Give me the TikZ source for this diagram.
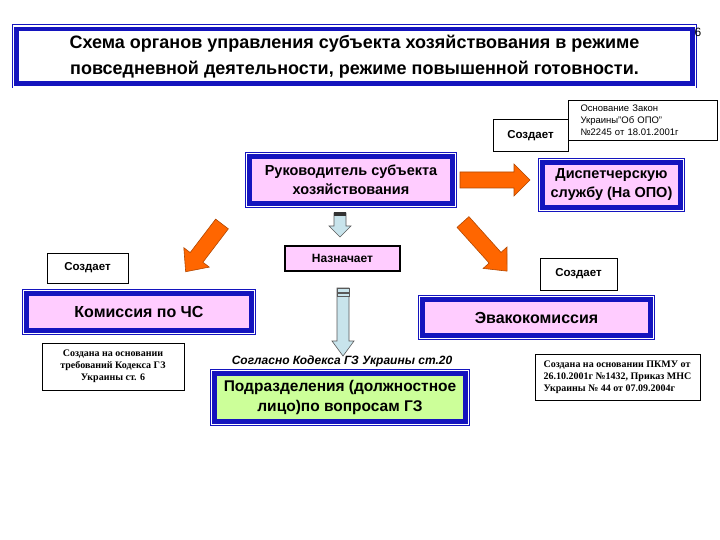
\documentclass[tikz,border=0pt]{standalone}
\usepackage{fontspec}
\setmainfont{Liberation Sans}
\newfontfamily\tms{Liberation Serif}
\definecolor{bluec}{RGB}{20,20,190}
\definecolor{pinkc}{RGB}{255,204,255}
\definecolor{greenc}{RGB}{204,255,153}
\definecolor{orangec}{RGB}{255,102,0}
\definecolor{lbluec}{RGB}{200,228,236}
\tikzset{
 frame/.style={draw=bluec, line width=7pt, fill=pinkc, align=center, font=\bfseries, inner sep=0pt},
 note/.style={draw=black, line width=1pt, fill=white, align=center, inner sep=2pt},
 oarrow/.style={draw=orangec!70!black, fill=orangec, line width=0.6pt},
 barrow/.style={draw=gray!70!black, fill=lbluec, line width=0.6pt},
}
\newcommand\innerline[1]{\draw[white, line width=1.2pt] ([shift={(1.5pt,-1.5pt)}]#1.north west) rectangle ([shift={(-1.5pt,1.5pt)}]#1.south east);}
% style, start, angle, length, bodyhalf, headhalf, headlen
\newcommand\fatarrow[7]{\begin{scope}[shift={#2}, rotate=#3]
\draw[#1] (0,#5) -- ({#4-#7},#5) -- ({#4-#7},#6) -- (#4,0) -- ({#4-#7},-#6) -- ({#4-#7},-#5) -- (0,-#5) -- cycle;
\end{scope}}
\begin{document}
\begin{tikzpicture}[x=1pt,y=-1pt]
\useasboundingbox[fill=white] (0,0) rectangle (720,540);
% title
\node[frame, fill=white, minimum width=678, minimum height=57, font=\bfseries\fontsize{18}{26}\selectfont] (title) at (354.5,56.5) {Схема органов управления субъекта хозяйствования в режиме\\повседневной деятельности, режиме повышенной готовности.};
\innerline{title}
\node[font=\fontsize{12}{12}\selectfont] (num) at (698,32) {6};
% notes
\node[note, minimum width=145, minimum height=40, font=\fontsize{9.5}{12}\selectfont, align=left, anchor=north west, text width=125, inner xsep=12pt] (osn) at (568,100) {Основание Закон\\Украины"Об ОПО"\\№2245 от 18.01.2001г};
\node[note, minimum width=75, minimum height=32, font=\bfseries\fontsize{11.5}{12}\selectfont] (sozd1) at (530.5,136) {Создает};
% main boxes
\node[frame, minimum width=205, minimum height=49, font=\bfseries\fontsize{14.5}{19}\selectfont] (ruk) at (351,180) {Руководитель субъекта\\хозяйствования};
\innerline{ruk}
\node[frame, minimum width=140, minimum height=47, font=\bfseries\fontsize{14.5}{19}\selectfont] (disp) at (611.5,185) {Диспетчерскую\\службу (На ОПО)};
\innerline{disp}
\fatarrow{oarrow}{(460,180)}{0}{70}{8}{16}{16}
% Назначает
\fatarrow{barrow}{(340,213)}{-90}{24}{6}{11}{11}
\fill[black!80] (334,212) rectangle (346,216);
\node[draw=black, line width=1.2pt, fill=pinkc, minimum width=115, minimum height=25, font=\bfseries\fontsize{12}{14}\selectfont, inner sep=0pt] (nazn) at (342.5,258.5) {Назначает};
\fatarrow{barrow}{(343,288)}{-90}{68}{6}{11}{15}
\draw[gray!70!black, fill=lbluec] (337,288) rectangle (349,292) (337,293) rectangle (349,296);
% diagonal arrows
\fatarrow{oarrow}{(222,224)}{-127.3}{60}{8}{16}{18}
\fatarrow{oarrow}{(463,222)}{-48.1}{66}{8}{16}{18}
% Создает labels
\node[note, minimum width=81, minimum height=30, font=\bfseries\fontsize{11.5}{12}\selectfont] (sozd2) at (87.5,268) {Создает};
\node[note, minimum width=77, minimum height=32, font=\bfseries\fontsize{11.5}{12}\selectfont] (sozd3) at (578.5,274) {Создает};
% commissions
\node[frame, minimum width=227, minimum height=39, font=\bfseries\fontsize{16}{20}\selectfont] (kom) at (139,312) {Комиссия по ЧС};
\innerline{kom}
\node[frame, minimum width=230, minimum height=38, font=\bfseries\fontsize{16}{20}\selectfont] (evak) at (536.5,317.5) {Эвакокомиссия};
\innerline{evak}
% Подразделения
\node[font=\bfseries\itshape\fontsize{12}{14}\selectfont] (sogl) at (342,361) {Согласно Кодекса ГЗ Украины ст.20};
\node[frame, fill=greenc, minimum width=253, minimum height=50, font=\bfseries\fontsize{15.5}{20}\selectfont] (podr) at (340,397.5) {Подразделения (должностное\\лицо)по вопросам ГЗ};
\innerline{podr}
% bottom notes
\node[note, minimum width=142, minimum height=47, font=\tms\bfseries\fontsize{10}{12}\selectfont] (n1) at (113,366.5) {Создана на основании\\требований Кодекса ГЗ\\Украины ст. 6};
\node[note, minimum width=165, minimum height=46, font=\tms\bfseries\fontsize{10}{12}\selectfont, align=left] (n2) at (617.5,377) {Создана на основании ПКМУ от\\26.10.2001г №1432, Приказ МНС\\Украины № 44 от 07.09.2004г};
\end{tikzpicture}
\end{document}
